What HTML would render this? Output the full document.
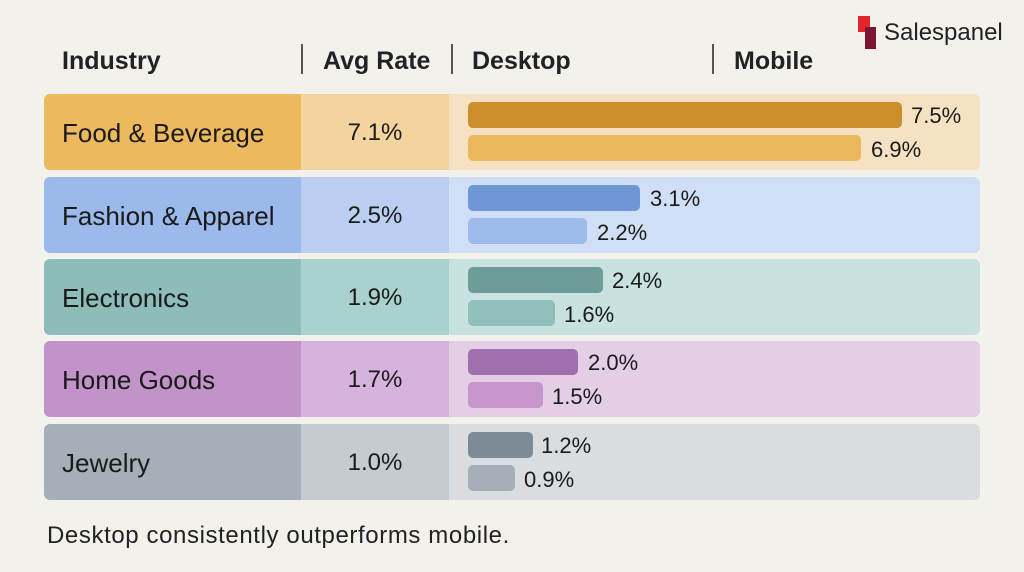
<!DOCTYPE html>
<html><head><meta charset="utf-8"><style>
body{margin:0;width:1024px;height:572px;background:#F3F1EC;font-family:"Liberation Sans",sans-serif;color:#1a1a1a;position:relative;overflow:hidden}
.a{position:absolute}
.h{font-size:25px;font-weight:bold;top:47px;color:#222}
.sep{position:absolute;width:2px;background:#555;top:44px;height:30px}
.row{position:absolute;left:44px;width:936px;height:76px;border-radius:6px;overflow:hidden}
.c1,.c2,.c3{position:absolute;top:0;height:100%}
.c1{left:0;width:257px}.c2{left:257px;width:148px}.c3{left:405px;width:531px}
.lbl{position:absolute;left:18px;top:24px;font-size:26px}
.val{position:absolute;left:0;width:148px;text-align:center;top:25px;font-size:24px}
.bar{position:absolute;left:19px;height:26px;border-radius:5px}
.bv{position:absolute;font-size:22px}
</style></head><body>
<div class="a h" style="left:62px">Industry</div>
<div class="sep" style="left:301px"></div>
<div class="a h" style="left:323px">Avg Rate</div>
<div class="sep" style="left:451px"></div>
<div class="a h" style="left:472px">Desktop</div>
<div class="sep" style="left:712px"></div>
<div class="a h" style="left:734px">Mobile</div>
<div class="a" style="left:858px;top:16px;width:12px;height:16px;background:#e0262b"></div>
<div class="a" style="left:865px;top:27px;width:11px;height:22px;background:#7a1630"></div>
<div class="a" style="left:884px;top:19px;font-size:24px;color:#222">Salespanel</div>

<div class="row" style="top:94px"><div class="c1" style="background:#EDB95E"><div class="lbl">Food &amp; Beverage</div></div><div class="c2" style="background:#F3D39E"><div class="val">7.1%</div></div><div class="c3" style="background:#F6E2C3">
<div class="bar" style="top:8px;width:434px;background:#CB8F2B"></div><div class="bv" style="left:462px;top:9px">7.5%</div>
<div class="bar" style="top:41px;width:393px;background:#ECB85E"></div><div class="bv" style="left:422px;top:43px">6.9%</div></div></div>

<div class="row" style="top:177px"><div class="c1" style="background:#9BB9EA"><div class="lbl">Fashion &amp; Apparel</div></div><div class="c2" style="background:#B9CEF0"><div class="val">2.5%</div></div><div class="c3" style="background:#D0DFF5">
<div class="bar" style="top:8px;width:172px;background:#6F97D6"></div><div class="bv" style="left:201px;top:9px">3.1%</div>
<div class="bar" style="top:41px;width:119px;background:#9DBCEB"></div><div class="bv" style="left:148px;top:43px">2.2%</div></div></div>

<div class="row" style="top:259px"><div class="c1" style="background:#8CBDB9"><div class="lbl">Electronics</div></div><div class="c2" style="background:#A9D1CD"><div class="val">1.9%</div></div><div class="c3" style="background:#C7E2DF">
<div class="bar" style="top:8px;width:135px;background:#6D9C99"></div><div class="bv" style="left:163px;top:9px">2.4%</div>
<div class="bar" style="top:41px;width:87px;background:#8FC0BC"></div><div class="bv" style="left:115px;top:43px">1.6%</div></div></div>

<div class="row" style="top:341px"><div class="c1" style="background:#C293C9"><div class="lbl">Home Goods</div></div><div class="c2" style="background:#D5B3DC"><div class="val">1.7%</div></div><div class="c3" style="background:#E4CEE6">
<div class="bar" style="top:8px;width:110px;background:#A06FAD"></div><div class="bv" style="left:139px;top:9px">2.0%</div>
<div class="bar" style="top:41px;width:75px;background:#C595CC"></div><div class="bv" style="left:103px;top:43px">1.5%</div></div></div>

<div class="row" style="top:424px"><div class="c1" style="background:#A4AFB8"><div class="lbl">Jewelry</div></div><div class="c2" style="background:#C5CBD1"><div class="val">1.0%</div></div><div class="c3" style="background:#DADDE0">
<div class="bar" style="top:8px;width:65px;background:#7D8B97"></div><div class="bv" style="left:92px;top:9px">1.2%</div>
<div class="bar" style="top:41px;width:47px;background:#A5AFB8"></div><div class="bv" style="left:75px;top:43px">0.9%</div></div></div>

<div class="a" style="left:47px;top:522px;font-size:24px;letter-spacing:0.6px;color:#222">Desktop consistently outperforms mobile.</div>
</body></html>
